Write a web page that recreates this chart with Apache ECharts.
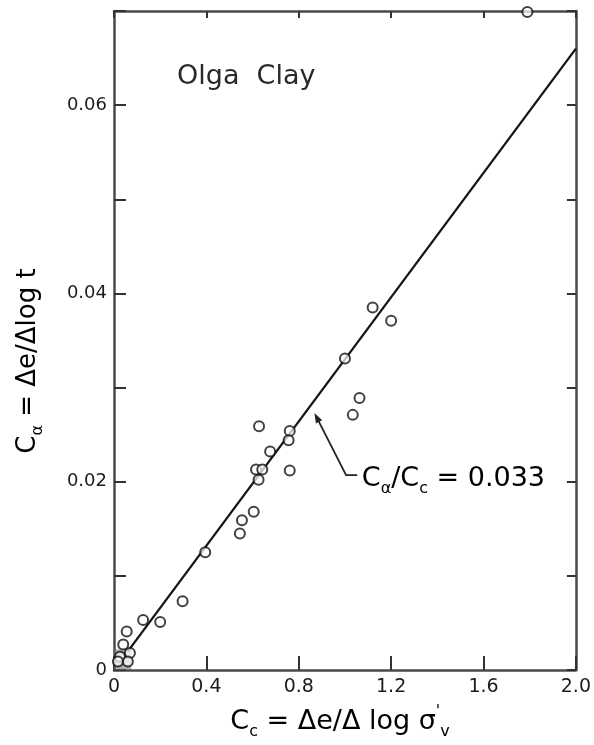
<!DOCTYPE html>
<html><head><meta charset="utf-8">
<script src="https://cdn.jsdelivr.net/npm/echarts@6/dist/echarts.min.js"></script>
<style>html,body{margin:0;padding:0;background:#fff}#c{width:594px;height:745px}</style>
</head><body><div id="c"></div>
<script>
// ---- data ----
const xTickValues = [0, 0.4, 0.8, 1.2, 1.6, 2.0];
const yTickLabels = ['0', '0.02', '0.04', '0.06'];
const ccValues = [1.79, 1.12, 1.20, 1.00, 1.063, 1.034, 0.628, 0.761, 0.756, 0.676, 0.761, 0.615, 0.642, 0.626, 0.605, 0.554, 0.545, 0.395, 0.297, 0.200, 0.126, 0.055, 0.040, 0.069, 0.026, 0.060, 0.017];
const caValues = [0.0699, 0.0385, 0.0371, 0.0331, 0.0289, 0.0271, 0.0259, 0.0254, 0.0244, 0.0232, 0.0212, 0.0213, 0.0213, 0.0202, 0.0168, 0.0159, 0.0145, 0.0125, 0.0073, 0.0051, 0.0053, 0.0041, 0.0027, 0.0018, 0.0014, 0.0009, 0.0009];
const fitCc = [0.06, 2.0];
const fitCa = [0.00198, 0.066];
const ratioLabel = '0.033';
const chartTitle = 'Olga  Clay';

const FONT = 'DejaVu Sans';
const TXT = '#1c1c1c';
const chart = echarts.init(document.getElementById('c'), null, {renderer: 'canvas'});

const points = ccValues.map((x, i) => [x, caValues[i]]);
const fitLine = fitCc.map((x, i) => [x, fitCa[i]]);

const axisLine = {show: true, onZero: false, lineStyle: {color: '#4a4a4a', width: 2.5}};
const tickStyle = {color: '#333', width: 2};

const mkRich = (big, small, lh) => ({
  m: {fontSize: big, fontFamily: FONT, color: TXT, lineHeight: lh, verticalAlign: 'middle'},
  s: {fontSize: small, fontFamily: FONT, color: TXT, lineHeight: small, verticalAlign: 'bottom'},
  p: {fontSize: small, fontFamily: FONT, color: TXT, lineHeight: small, verticalAlign: 'top'}
});

chart.setOption({
  animation: false,
  backgroundColor: '#fff',
  title: {text: chartTitle, left: 172, top: 58,
    textStyle: {fontFamily: FONT, fontSize: 27, fontWeight: 'normal', color: '#2a2a2a'}},
  grid: {left: 114, right: 14, top: 11, bottom: 75},
  xAxis: [{
    type: 'value', min: 0, max: 2.0, interval: 0.4, position: 'bottom',
    axisLine: axisLine,
    axisTick: {show: true, inside: true, length: 14, lineStyle: tickStyle},
    splitLine: {show: false},
    axisLabel: {fontFamily: FONT, fontSize: 19, color: TXT, margin: 8,
      formatter: v => { const t = xTickValues.find(a => Math.abs(a - v) < 1e-9); return t === 0 ? '0' : (t !== undefined ? t.toFixed(1) : ''); }}
  }, {
    type: 'value', min: 0, max: 2.0, interval: 0.4, position: 'top',
    axisLine: axisLine,
    axisTick: {show: true, inside: true, length: 7, lineStyle: tickStyle},
    splitLine: {show: false}, axisLabel: {show: false}
  }],
  yAxis: [{
    type: 'value', min: 0, max: 0.07, interval: 0.01, position: 'left',
    axisLine: axisLine,
    axisTick: {show: true, inside: true, length: 12, lineStyle: tickStyle},
    splitLine: {show: false},
    axisLabel: {fontFamily: FONT, fontSize: 18, color: TXT, margin: 7,
      formatter: v => { const k = Math.round(v * 100); return (k % 2 === 0 && yTickLabels[k / 2] !== undefined) ? yTickLabels[k / 2] : ''; }}
  }, {
    type: 'value', min: 0, max: 0.07, interval: 0.01, position: 'right',
    axisLine: axisLine,
    axisTick: {show: true, inside: true, length: 9, lineStyle: tickStyle},
    splitLine: {show: false}, axisLabel: {show: false}
  }],
  series: [{
    type: 'line', data: fitLine, showSymbol: false, symbol: 'none',
    lineStyle: {color: '#151515', width: 2.3}, z: 2
  }, {
    type: 'scatter', data: points, symbol: 'circle', symbolSize: 10,
    itemStyle: {color: 'rgba(255,255,255,0.9)', borderColor: '#111', borderWidth: 2},
    z: 3,
    markArea: {silent: true, itemStyle: {color: 'rgba(110,110,110,0.55)'},
      data: [[{coord: [0, 0]}, {coord: [0.075, 0.0022]}]]}
  }]
});

// annotation: Cα/Cc = 0.033 with leader arrow, plus axis titles
const P = (x, y) => chart.convertToPixel({seriesIndex: 0}, [x, y]);
const a0 = P(1.053, 0.0207), a1 = P(1.005, 0.0207), a2 = P(0.868, 0.0273);
const dx = a2[0] - a1[0], dy = a2[1] - a1[1], L = Math.hypot(dx, dy);
const ux = dx / L, uy = dy / L, nx = -uy, ny = ux;
const head = [a2, [a2[0] - ux * 10 + nx * 3.5, a2[1] - uy * 10 + ny * 3.5], [a2[0] - ux * 10 - nx * 3.5, a2[1] - uy * 10 - ny * 3.5]];
const tp = P(1.073, 0.0203);
chart.setOption({
  graphic: [
    {type: 'polyline', shape: {points: [a0, a1, [a2[0] - ux * 6, a2[1] - uy * 6]]}, style: {stroke: '#222', lineWidth: 1.8, fill: null}},
    {type: 'polygon', shape: {points: head}, style: {fill: '#222'}},
    {type: 'text', x: tp[0], y: tp[1], style: {
      text: '{m|C}{s|α}{m|/C}{s|c}{m| = ' + ratioLabel + '}',
      rich: mkRich(27, 16, 36), verticalAlign: 'middle', align: 'left'}},
    {type: 'text', x: 28, y: 361, rotation: Math.PI / 2, style: {
      text: '{m|C}{s|α}{m| = Δe/Δlog t}',
      rich: mkRich(26, 16, 36), verticalAlign: 'middle', align: 'center'}},
    {type: 'text', x: 340, y: 722, style: {
      text: '{m|C}{s|c}{m| = Δe/Δ log σ}{p|\'}{s|v}',
      rich: mkRich(27, 16, 36), verticalAlign: 'middle', align: 'center'}}
  ]
});
</script></body></html>
